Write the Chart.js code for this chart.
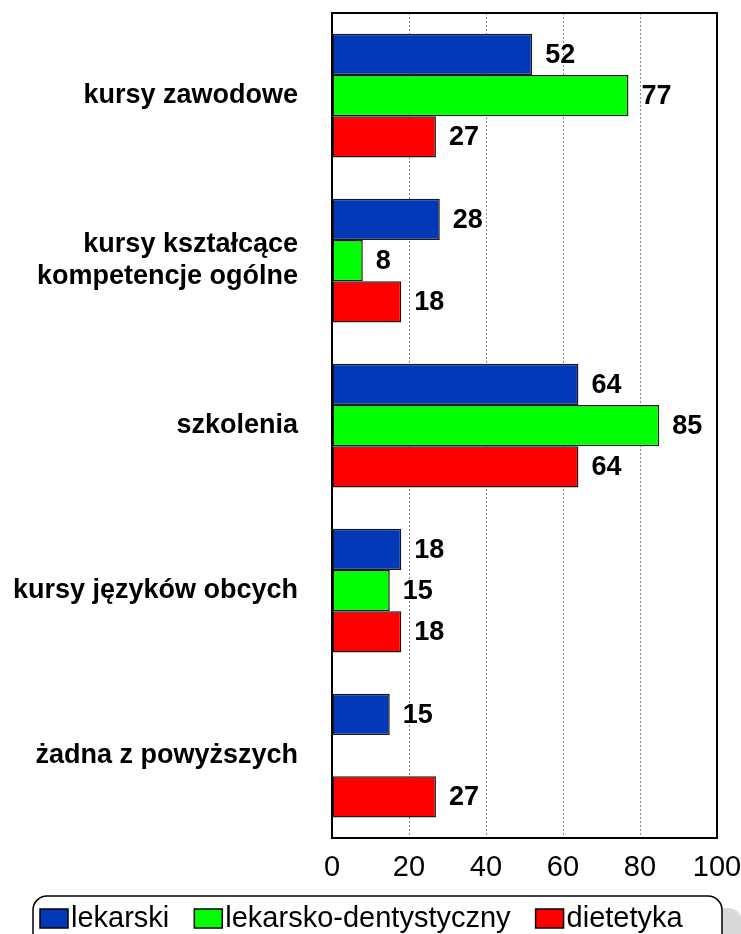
<!DOCTYPE html>
<html>
<head>
<meta charset="utf-8">
<script src="https://cdn.jsdelivr.net/npm/chart.js@4"></script>
<style>
  html, body { margin: 0; padding: 0; background: #fff; }
  canvas { display: block; }
</style>
</head>
<body>
<canvas id="chart" width="741" height="934"></canvas>
<script>
// data
const categories = [
    'kursy zawodowe',
    ['kursy kształcące', 'kompetencje ogólne'],
    'szkolenia',
    'kursy języków obcych',
    'żadna z powyższych'
];
const seriesNames = ['lekarski', 'lekarsko-dentystyczny', 'dietetyka'];
const lekarski = [52, 28, 64, 18, 15];
const lekarskoDent = [77, 8, 85, 15, null];
const dietetyka = [27, 18, 64, 18, 27];
const xTicks = [0, 20, 40, 60, 80, 100];

const colors = ['#0038b8', '#00ff00', '#ff0000'];
const FONT = "'Liberation Sans', Arial, sans-serif";

// value labels next to the bar ends
const valueLabels = {
    id: 'valueLabels',
    afterDatasetsDraw(chart) {
        const ctx = chart.ctx;
        ctx.save();
        ctx.font = 'bold 27px ' + FONT;
        ctx.fillStyle = '#000';
        ctx.textAlign = 'left';
        ctx.textBaseline = 'middle';
        chart.data.datasets.forEach((ds, i) => {
            chart.getDatasetMeta(i).data.forEach((bar, j) => {
                const v = ds.data[j];
                if (v === null || v === undefined) return;
                ctx.fillText(String(v), bar.x + 13, bar.y + 1);
            });
        });
        ctx.restore();
    }
};

// black frame round the plot + boxed legend with shadow
const frameAndLegend = {
    id: 'frameAndLegend',
    afterDraw(chart) {
        const ctx = chart.ctx;
        const a = chart.chartArea;
        ctx.save();
        ctx.strokeStyle = '#000';
        ctx.lineWidth = 2;
        ctx.strokeRect(a.left, a.top, a.right - a.left, a.bottom - a.top);

        // legend box
        const lx = 33, ly = 896, lw = 689, lh = 60, r = 14;
        ctx.fillStyle = '#d9d9d9';
        ctx.beginPath();
        ctx.roundRect(lx + 20, ly + 12, lw, lh, r);
        ctx.fill();
        ctx.fillStyle = '#fff';
        ctx.beginPath();
        ctx.roundRect(lx, ly, lw, lh, r);
        ctx.fill();
        ctx.lineWidth = 1.5;
        ctx.strokeStyle = '#000';
        ctx.stroke();

        ctx.font = '29px ' + FONT;
        ctx.textBaseline = 'middle';
        ctx.textAlign = 'left';
        let x = 40;
        seriesNames.forEach((name, i) => {
            ctx.fillStyle = colors[i];
            ctx.fillRect(x, 909, 28, 19);
            ctx.lineWidth = 1.5;
            ctx.strokeStyle = '#000';
            ctx.strokeRect(x, 909, 28, 19);
            ctx.fillStyle = '#000';
            ctx.fillText(name, x + 31, 919);
            x += 31 + ctx.measureText(name).width + 25;
        });
        ctx.restore();
    }
};

const datasets = [lekarski, lekarskoDent, dietetyka].map((d, i) => ({
    label: seriesNames[i],
    data: d,
    backgroundColor: colors[i],
    borderColor: '#1a1a1a',
    borderWidth: 1.5,
    borderSkipped: false,
    categoryPercentage: 0.75,
    barPercentage: 1
}));

new Chart(document.getElementById('chart'), {
    type: 'bar',
    data: { labels: categories, datasets: datasets },
    options: {
        indexAxis: 'y',
        responsive: false,
        animation: false,
        layout: { padding: { left: 0, right: 24, top: 13, bottom: 46 } },
        plugins: {
            legend: { display: false },
            tooltip: { enabled: false }
        },
        scales: {
            x: {
                min: 0,
                max: 100,
                afterBuildTicks: scale => {
                    scale.ticks = xTicks.map(v => ({ value: v }));
                },
                afterFit: scale => {
                    scale.height = 50;
                    scale.paddingLeft = 0;
                    scale.paddingRight = 0;
                },
                grid: { color: '#8c8c8c', lineWidth: 1, drawTicks: false },
                border: { display: false, dash: [2, 2] },
                ticks: {
                    padding: 13,
                    color: '#000',
                    font: { family: FONT, size: 29 }
                }
            },
            y: {
                afterFit: scale => {
                    scale.width = 332;
                    scale.paddingTop = 0;
                    scale.paddingBottom = 0;
                },
                grid: { display: false },
                border: { display: false },
                ticks: {
                    padding: 26,
                    color: '#000',
                    font: { family: FONT, size: 27, weight: 'bold' }
                }
            }
        }
    },
    plugins: [valueLabels, frameAndLegend]
});
</script>
</body>
</html>
